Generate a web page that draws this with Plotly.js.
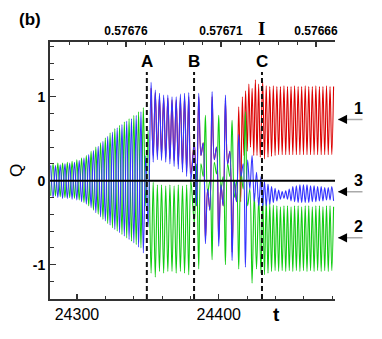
<!DOCTYPE html>
<html>
<head>
<meta charset="utf-8">
<script src="https://cdn.plot.ly/plotly-3.0.1.min.js"></script>
<style>
  html, body { margin: 0; padding: 0; background: white; }
  #plot { width: 382px; height: 339px; }
</style>
</head>
<body>
<div id="plot"></div>
<script>
// turning points (alternating max / min) of each curve
// timing rows: start time, time between turning points
const blueTiming = [[24281.5, 1.675], [24348.5, 1.7], [24352.3, 1.475], [24382.77, 1.567], [24431.0, 1.25]];
const bluePreA = [0.18, -0.2, 0.18, -0.2, 0.19, -0.21, 0.2, -0.21, 0.21, -0.22, 0.22, -0.23, 0.24, -0.25, 0.27, -0.28,
  0.31, -0.32, 0.36, -0.38, 0.41, -0.43, 0.47, -0.48, 0.53, -0.53, 0.58, -0.58, 0.63, -0.62, 0.67, -0.66,
  0.71, -0.7, 0.74, -0.74, 0.78, -0.79, 0.82, -0.86];
const blueA = [0.3, -0.55];
const blueAB = [1.17, 0.22, 1.08, 0.25, 1.04, 0.24, 1.02, 0.22, 1.02, 0.2, 1.0, 0.17, 1.0, 0.14, 1.03, 0.1, 1.04, 0.05, 1.05, 0.0];
const blueBC = [0.45, -0.3, 1.04, 0.3, 0.45, -0.75, -0.1, -0.35, 1.06, 0.25, 0.4, -0.78, -0.05, -0.3, 1.02, 0.2,
  0.35, -0.95, 0.0, -0.25, 0.55, 0.05, 0.2, -1.03, 0.25, -0.1, 0.3, -0.25, 0.1, -0.3, 0.05];
const bluePostC = [-0.31, -0.01, -0.3, -0.04, -0.28, -0.07, -0.26, -0.09, -0.24, -0.11, -0.22, -0.13, -0.21, -0.12,
  -0.22, -0.1, -0.24, -0.07, -0.25, -0.06, -0.26, -0.05, -0.26, -0.05, -0.26, -0.05, -0.26, -0.06, -0.25, -0.06,
  -0.25, -0.07, -0.24, -0.07, -0.24, -0.08, -0.23, -0.08, -0.23, -0.07, -0.24];

const greenTiming = blueTiming;
const greenPreA = [-0.18, 0.2, -0.18, 0.21, -0.19, 0.21, -0.2, 0.22, -0.2, 0.23, -0.21, 0.25, -0.23, 0.27, -0.26, 0.3,
  -0.3, 0.35, -0.35, 0.4, -0.4, 0.45, -0.46, 0.51, -0.51, 0.57, -0.56, 0.62, -0.6, 0.66, -0.64, 0.7,
  -0.68, 0.74, -0.72, 0.78, -0.76, 0.82, -0.8, 0.87];
const greenA = [-0.3, 0.6];
const greenAB = [-1.1, -0.02, -1.15, -0.05, -1.08, -0.05, -1.1, -0.06, -1.08, -0.05, -1.08, -0.06, -1.1, -0.05,
  -1.08, -0.06, -1.1, -0.05, -1.12, 0.0];
const greenBC = [-0.5, 0.2, -1.05, 0.2, 0.05, 0.78, -0.15, 0.0, -0.94, 0.22, 0.08, 0.78, -0.1, 0.05, -1.0, 0.2,
  0.05, 0.72, -0.2, 0.0, -1.05, 0.1, -0.1, 0.82, -0.3, -0.1, -1.22, -0.15, -1.05, -0.2, -1.1];
const greenPostC = [-0.15, -1.12, -0.22, -1.1, -0.27, -1.08, -0.29, -1.07, -0.3, -1.08, -0.31, -1.07, -0.3, -1.08,
  -0.3, -1.07, -0.31, -1.08, -0.3, -1.07, -0.3, -1.08, -0.31, -1.07, -0.3, -1.08, -0.3, -1.07, -0.31, -1.08,
  -0.3, -1.07, -0.3, -1.08, -0.31, -1.07, -0.3, -1.08, -0.3, -1.07, -0.31];

const redTiming = [[24352.3, 1.475], [24382.77, 1.567], [24415.5, 1.15], [24431.0, 1.25]];
const redAB = [1.1, 0.3, 1.05, 0.3, 1.0, 0.3, 0.98, 0.28, 0.98, 0.26, 0.96, 0.24, 0.96, 0.2, 0.98, 0.16, 1.0, 0.12, 1.0, 0.08];
const redBC1 = [0.45, -0.3, 1.0, 0.3, 0.45, -0.7, -0.1, -0.35, 1.0, 0.25, 0.4, -0.7, -0.05, -0.3, 0.95, 0.2,
  0.35, -0.85, 0.0, -0.25, 0.88];
const redBC2 = [-0.25, 1.0, 0.3, 1.07, 0.35, 1.15, 0.4, 1.1, 0.3, 1.2, 0.3, 1.15, 0.28];
const redPostC = [1.18, 0.26, 1.13, 0.28, 1.12, 0.29, 1.13, 0.3, 1.12, 0.31, 1.12, 0.31, 1.13, 0.31, 1.12, 0.31,
  1.12, 0.31, 1.13, 0.31, 1.12, 0.31, 1.12, 0.31, 1.13, 0.31, 1.12, 0.31, 1.12, 0.31, 1.13, 0.31, 1.12, 0.31,
  1.12, 0.31, 1.13, 0.31, 1.12, 0.31, 1.12];

// event times (A, B, C) and other labels
const eventT = [24349.3, 24382.6, 24430.5];
const eventLabels = ["A", "B", "C"];
const topTicks = [0.57676, 0.57671, 0.57666];
const curveLabels = ["1", "3", "2"];
const curveLabelQ = [0.73, -0.13, -0.68];

const build = (timing, blocks) => {
	let x = [], y = [];
	blocks.forEach((q, k) => {
		q.forEach((v, i) => {
			x.push(timing[k][0] + i * timing[k][1]);
			y.push(v);
		});
	});
	return {x: x, y: y};
};

const mk = (d, color) => ({
	type: "scatter",
	mode: "lines",
	x: d.x,
	y: d.y,
	line: {color: color, width: 1.1, shape: "spline", smoothing: 1},
	hoverinfo: "skip",
	showlegend: false
});

const red = build(redTiming, [redAB, redBC1, redBC2, redPostC]);
const green = build(greenTiming, [greenPreA, greenA, greenAB, greenBC, greenPostC]);
const blue = build(blueTiming, [bluePreA, blueA, blueAB, blueBC, bluePostC]);

let traces = [
	mk(red, "#dd0000"), mk(green, "#11cc11"), mk(blue, "#3333ff"),
	// empty trace so the top (I) axis is drawn
	{type: "scatter", mode: "lines", x: [topTicks[1]], y: [null], xaxis: "x2", yaxis: "y", showlegend: false, hoverinfo: "skip"}
];

const lab = {family: "Liberation Sans, Arial, sans-serif", color: "black"};
const note = (text, xref, yref, x, y, size, extra) => Object.assign({
	text: text, xref: xref, yref: yref, x: x, y: y, showarrow: false,
	xanchor: "center", yanchor: "middle", font: {...lab, size: size, weight: "bold"}
}, extra || {});

let shapes = [
	{type: "line", xref: "paper", x0: 0, x1: 1, yref: "y", y0: 0, y1: 0, layer: "above",
		line: {color: "black", width: 2}}
];
eventT.forEach(t => {
	shapes.push({type: "line", xref: "x", x0: t, x1: t, yref: "paper", y0: 0, y1: 0.883, layer: "above",
		line: {color: "#111", width: 2, dash: "5px,3px"}});
});

let annotations = [
	note("(b)", "paper", "paper", -0.07, 1.086, 17),
	note("I", "paper", "paper", 0.743, 1.052, 19,
		{font: {family: "Liberation Serif, Times New Roman, serif", size: 19, weight: "bold", color: "black"}}),
	note("t", "paper", "paper", 0.796, -0.062, 19),
	note("Q", "paper", "paper", -0.119, 0.498, 17, {textangle: -90, font: {...lab, size: 17}})
];
eventT.forEach((t, i) => {
	annotations.push(note(eventLabels[i], "x", "paper", t, 0.926, 17));
});
curveLabels.forEach((s, i) => {
	annotations.push(note(s, "paper", "y", 1.081, curveLabelQ[i] + 0.13, 16));
	annotations.push({text: "", xref: "paper", yref: "y", x: 1.0105, y: curveLabelQ[i], showarrow: true,
		ax: 26, ay: 0, arrowhead: 0, arrowwidth: 1.5, arrowcolor: "#aaaaaa"});
	annotations.push({text: "", xref: "paper", yref: "y", x: 1.0105, y: curveLabelQ[i], showarrow: true,
		ax: 8, ay: 0, arrowhead: 2, arrowsize: 1.4, arrowwidth: 1.3, arrowcolor: "black"});
});

let layout = {
	width: 382,
	height: 339,
	margin: {l: 50, r: 47, t: 42, b: 40},
	paper_bgcolor: "white",
	plot_bgcolor: "white",
	showlegend: false,
	hovermode: false,
	xaxis: {
		range: [24281, 24482],
		tickmode: "linear", tick0: 24300, dtick: 100, tickformat: "d",
		ticks: "inside", ticklen: 5, tickwidth: 1.5, tickcolor: "#333",
		minor: {dtick: 20, tick0: 24300, ticks: "inside", ticklen: 3, tickcolor: "#333", tickwidth: 1},
		showgrid: false, zeroline: false,
		showline: true, linecolor: "#333", linewidth: 2,
		tickfont: {...lab, size: 16}
	},
	xaxis2: {
		overlaying: "x", side: "top", anchor: "y",
		range: [0.5768, 0.57665],
		tickmode: "array", tickvals: topTicks, ticktext: topTicks.map(v => v.toFixed(5)),
		ticks: "inside", ticklen: 5, tickwidth: 1.5, tickcolor: "#333",
		minor: {dtick: 0.00001, tick0: 0.57666, ticks: "inside", ticklen: 3, tickcolor: "#333", tickwidth: 1},
		showgrid: false, zeroline: false,
		showline: true, linecolor: "#333", linewidth: 2,
		tickfont: {...lab, size: 12, weight: "bold"}
	},
	yaxis: {
		range: [-1.408, 1.651],
		tickmode: "array", tickvals: [-1, 0, 1], ticktext: ["-1", "0", "1"],
		ticks: "inside", ticklen: 6, tickwidth: 1.5, tickcolor: "#333",
		minor: {dtick: 0.2, tick0: 0, ticks: "inside", ticklen: 4, tickcolor: "#333", tickwidth: 1},
		showgrid: false, zeroline: false,
		showline: true, linecolor: "#333", linewidth: 2,
		tickfont: {...lab, size: 14, weight: "bold"}
	},
	shapes: shapes,
	annotations: annotations
};

Plotly.newPlot("plot", traces, layout, {staticPlot: true, displayModeBar: false});
</script>
</body>
</html>
